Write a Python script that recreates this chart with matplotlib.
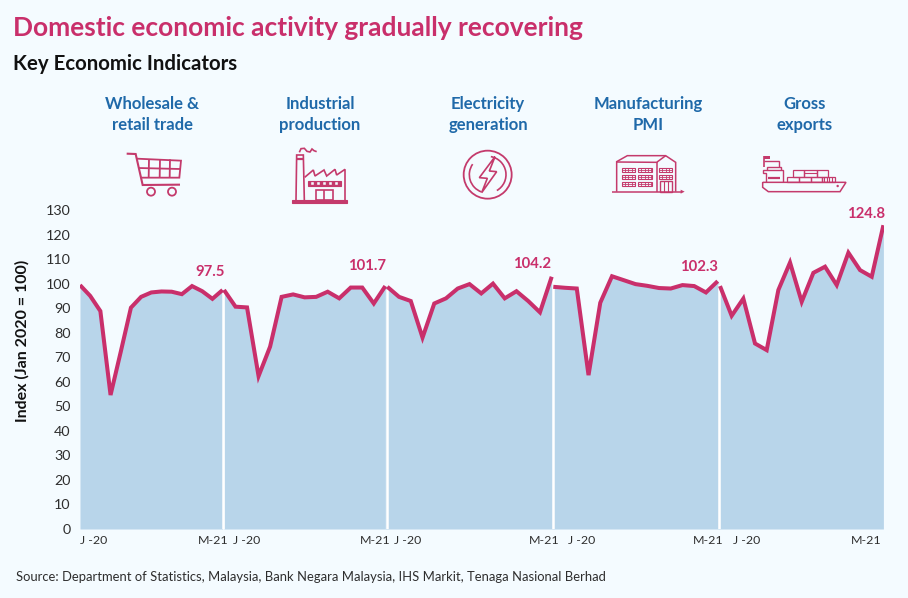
import numpy as np
import matplotlib
matplotlib.use("Agg")
import matplotlib.pyplot as plt
from matplotlib.patches import Circle, Rectangle, Polygon, Arc

# ---------- data ----------
wholesale = [99.4, 95.0, 88.8, 54.6, 72.2, 90.2, 94.6, 96.4, 96.8, 96.7, 95.7, 99.0, 96.9, 93.8, 97.4]
industrial = [97.4, 90.6, 90.3, 62.3, 74.3, 94.6, 95.6, 94.4, 94.6, 96.7, 94.0, 98.4, 98.4, 91.9, 99.0]
electricity = [98.7, 94.6, 92.9, 78.0, 91.9, 94.0, 98.0, 99.8, 96.0, 100.0, 94.0, 96.9, 92.9, 88.3, 102.8]
pmi = [98.7, 98.3, 98.0, 62.7, 92.2, 103.0, 101.4, 99.8, 99.1, 98.2, 98.0, 99.4, 99.0, 96.4, 101.0]
exports = [99.0, 86.9, 93.9, 75.6, 72.9, 97.4, 108.6, 92.6, 104.4, 106.9, 99.4, 112.6, 105.5, 102.8, 123.8]
series = [wholesale, industrial, electricity, pmi, exports]
panel_names = ["Wholesale &\nretail trade", "Industrial\nproduction", "Electricity\ngeneration",
               "Manufacturing\nPMI", "Gross\nexports"]
end_labels = ["97.5", "101.7", "104.2", "102.3", "124.8"]
y_ticks = list(range(0, 131, 10))
x_tick_labels = ["J -20", "M-21", "J -20", "M-21", "J -20", "M-21", "J -20", "M-21", "J -20", "M-21"]

# ---------- style ----------
BG = "#F4FBFF"
FILL = "#B8D5EA"
PINK = "#C92F6B"
ICON = "#C43A6C"
BLUE = "#1F69A9"
DARK = "#2E2E2E"
FONT = ["Lato", "Noto Sans", "DejaVu Sans"]
plt.rcParams["font.family"] = FONT

W, H = 908, 598
fig = plt.figure(figsize=(W / 100, H / 100), dpi=100, facecolor=BG)
X0, X1, Y0, Y130 = 80, 884, 529, 210
ax = fig.add_axes([X0 / W, 1 - Y0 / H, (X1 - X0) / W, (Y0 - Y130) / H], facecolor="none")
ax.set_xlim(X0, X1)
ax.set_ylim(0, 130)

edges = [(80, 222.6), (224, 385.3), (387.3, 551.7), (553.3, 717.7), (720, 883.4)]
sep_x = [223.3, 387, 552.6, 719]
label_xy = [(210, 272), (367, 266), (532, 264), (699, 267), (866, 214)]
tick_x = [94, 213, 247, 375, 408, 544, 582, 708, 747, 866]

for vals, (a, b) in zip(series, edges):
    x = np.linspace(a, b, len(vals))
    ax.fill_between(x, 0, vals, color=FILL, lw=0, zorder=1)
for i, (vals, (a, b)) in enumerate(zip(series, edges)):
    if i < len(series) - 1:
        nxt = series[i + 1]
        ax.fill_between([b, edges[i + 1][0]], 0, [vals[-1], nxt[0]], color=FILL, lw=0, zorder=1)
for vals, s in zip(series, sep_x):
    ax.plot([s, s], [0, vals[-1] - 1], color="white", lw=1.8, zorder=2, solid_capstyle="butt")
for vals, (a, b) in zip(series, edges):
    x = np.linspace(a, b, len(vals))
    ax.plot(x, vals, color=PINK, lw=2.9, zorder=3, solid_joinstyle="miter", solid_capstyle="butt")

for s in ax.spines.values():
    s.set_visible(False)
ax.set_yticks(y_ticks)
ax.set_xticks(tick_x)
ax.set_xticklabels(x_tick_labels)
ax.tick_params(axis="y", length=0, pad=7, labelsize=10.3, labelcolor=DARK)
ax.tick_params(axis="x", length=0, pad=4, labelsize=8.9, labelcolor=DARK)

# ---------- overlay in pixel coordinates ----------
ov = fig.add_axes([0, 0, 1, 1], facecolor="none")
ov.set_xlim(0, W)
ov.set_ylim(H, 0)
ov.axis("off")

ov.text(13, 27.5, "Domestic economic activity gradually recovering", color=PINK, fontsize=19,
        fontweight="bold", va="center", ha="left")
ov.text(13, 63.5, "Key Economic Indicators", color="#111111", fontsize=14.7, fontweight="bold", va="center")
ov.text(22, 341, "Index (Jan 2020 = 100)", color="#111111", fontsize=11.5, fontweight="bold",
        rotation=90, va="center", ha="center")
ov.text(16, 577, "Source: Department of Statistics, Malaysia, Bank Negara Malaysia, IHS Markit, Tenaga Nasional Berhad",
        color=DARK, fontsize=9.35, va="center", ha="left")

for name, cx in zip(panel_names, [152, 320, 488, 648, 805]):
    ov.text(cx, 114.5, name, color=BLUE, fontsize=12, fontweight="bold", ha="center", va="center",
            linespacing=1.33)
for lab, (x, y) in zip(end_labels, label_xy):
    ov.text(x, y, lab, color=PINK, fontsize=10.7, fontweight="bold", ha="center", va="center")


def mapper(ox, oy):
    return lambda pts: [(ox + a / 3, oy + b / 3) for a, b in pts]


def pl(m, pts, lw=1.0, color=ICON, closed=False):
    q = m(pts)
    if closed:
        q = q + [q[0]]
    xs, ys = zip(*q)
    ov.plot(xs, ys, color=color, lw=lw, solid_joinstyle="miter", solid_capstyle="butt")


def rect(m, x0, y0, x1, y1, lw=1.0, fill=None):
    (a, b), (c, d) = m([(x0, y0), (x1, y1)])
    ov.add_patch(Rectangle((a, b), c - a, d - b, fc=fill or "none", ec=ICON, lw=lw))


def circ(m, x, y, r, lw=1.0):
    (a, b), = m([(x, y)])
    ov.add_patch(Circle((a, b), r / 3, fc="none", ec=ICON, lw=lw))


# cart
m = mapper(100, 90)
pl(m, [(80, 191), (107, 192), (128, 285), (240, 284)], 1.5)
pl(m, [(110, 206), (243, 212), (238, 263), (122, 263)], 1.3)
pl(m, [(116, 234), (240, 237)], 1.3)
for xv in (147, 180, 210):
    pl(m, [(xv, 208), (xv - 1, 263)], 1.3)
circ(m, 153, 305, 12, 1.3)
circ(m, 216, 305, 12, 1.3)

# factory
rect(m, 576, 331, 741, 338, 0.8, fill=ICON)
pl(m, [(588, 331), (590, 195), (610, 195), (613, 331)], 1.2)
pl(m, [(589, 206), (611, 206)], 1.6)
pl(m, [(598, 187), (603, 176), (613, 175), (621, 184), (630, 186), (636, 177), (642, 182), (650, 185)], 1.2)
pl(m, [(614, 262), (640, 240), (645, 258), (672, 240), (680, 258), (705, 238), (710, 255), (735, 238), (735, 331)], 1.2)
rect(m, 625, 272, 722, 288, 0.8, fill=ICON)
for xv in range(632, 716, 18):
    rect(m, xv, 276, xv + 9, 284, 0.3, fill=BG)
rect(m, 647, 300, 698, 331, 1.2)
pl(m, [(672, 300), (672, 331)], 1.2)

# electricity
m = mapper(440, 90)
circ(m, 143, 254, 72, 1.3)
(cx, cy), = m([(143, 254)])
ov.add_patch(Arc((cx, cy), 110 / 3, 110 / 3, theta1=-80, theta2=60, ec=ICON, lw=1.2))
ov.add_patch(Arc((cx, cy), 110 / 3, 110 / 3, theta1=110, theta2=215, ec=ICON, lw=1.2))
pl(m, [(165, 200), (118, 263), (142, 265), (125, 308), (170, 245), (148, 243)], 1.2, closed=True)

# building
pl(m, [(530, 305), (530, 215), (562, 197), (677, 197), (707, 217), (707, 305)], 1.1)
pl(m, [(530, 216), (650, 217), (677, 197)], 1.1)
pl(m, [(650, 217), (650, 305)], 1.1)
pl(m, [(517, 305), (725, 305)], 1.1)
ov.add_patch(Polygon(m([(722, 299), (734, 305), (722, 311)]), fc=ICON, ec="none"))
for yr in (235, 255, 275):
    for xr0, xr1 in ((545, 586), (594, 635), (657, 697)):
        if yr == 275 and xr0 == 657:
            continue
        rect(m, xr0, yr, xr1, yr + 12, 0.8)
        pl(m, [(xr0, yr + 6), (xr1, yr + 6)], 0.6)
        for xq in range(xr0 + 10, xr1, 10):
            pl(m, [(xq, yr), (xq, yr + 12)], 0.6)
rect(m, 660, 274, 697, 305, 1.0)
for xq in (672, 685):
    pl(m, [(xq, 274), (xq, 305)], 0.8)

# ship
pl(m, [(968, 277), (1218, 277), (1200, 305), (985, 305), (968, 292)], 1.1, closed=True)
pl(m, [(972, 197), (972, 232)], 1.2)
ov.add_patch(Polygon(m([(972, 197), (989, 197), (989, 208), (972, 208)]), fc=ICON, ec="none"))
pl(m, [(972, 212), (1016, 212), (1016, 232)], 1.0)
pl(m, [(978, 277), (978, 250), (970, 250), (970, 241), (1030, 241), (1030, 250), (1030, 277)], 1.0)
pl(m, [(982, 241), (982, 232), (1024, 232), (1024, 241)], 1.0)
pl(m, [(985, 263), (1020, 263)], 1.6)
for r in [(1058, 240, 1092, 262), (1092, 240, 1130, 262), (1130, 240, 1165, 262),
          (1040, 262, 1078, 277), (1078, 262, 1112, 277), (1112, 262, 1145, 277), (1145, 260, 1185, 277)]:
    rect(m, *r, 0.9)
pl(m, [(1092, 250), (1130, 250)], 0.8)
for xq in (1152, 1160, 1168, 1176):
    pl(m, [(xq, 260), (xq, 277)], 0.8)
circ(m, 1193, 288, 1.5, 1.0)

fig.savefig("out.png", dpi=100, facecolor=BG)
